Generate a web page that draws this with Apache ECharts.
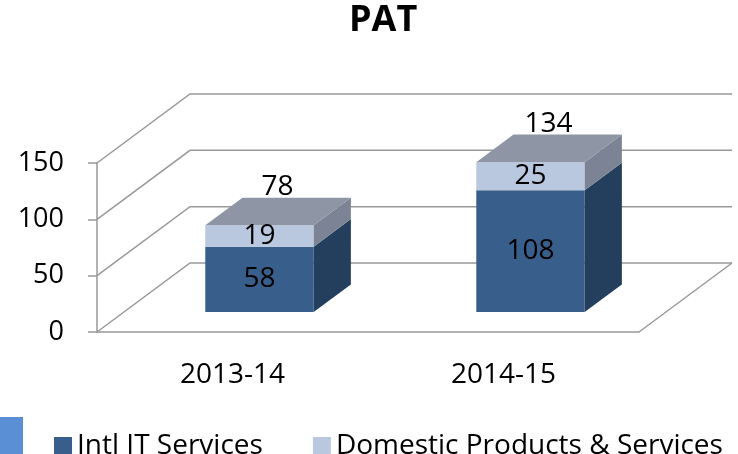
<!DOCTYPE html>
<html>
<head>
    <meta charset="utf-8">
    <title>PAT</title>
    <script src="https://cdn.jsdelivr.net/npm/echarts@6/dist/echarts.min.js"></script>
</head>
<body style="margin:0">
    <div id="main" style="width: 738px;height:454px;"></div>
    <script type="text/javascript">
        // data
        var categories = ['2013-14', '2014-15'];
        var intlIT = [58, 108];
        var domestic = [19, 25];
        var totals = [78, 134];
        var yTicks = [0, 50, 100, 150];

        // fake 3d: full depth of the floor, where the bars sit in it, how deep they are
        var DX = 93, DY = -69;
        var FRONT = 0.29, DEPTH = 0.4;
        var FONT = 'Open Sans';
        var LINE = '#999999';

        function wallItem(params, api) {
            var cs = params.coordSys;
            var v = api.value(0);
            var y = api.coord([0, v])[1];
            var x0 = cs.x, x1 = cs.x + cs.width;
            var pts = [[x0, y], [x0 + DX, y + DY], [x1 + DX, y + DY]];
            var style = { stroke: LINE, lineWidth: 1.5, fill: null };
            var kids = [{ type: 'polyline', shape: { points: pts }, style: style }];
            if (v === 0) {
                kids.push({ type: 'line', shape: { x1: x1, y1: y, x2: x1 + DX, y2: y + DY }, style: style });
            }
            return { type: 'group', children: kids };
        }

        function boxParts(api) {
            var i = api.value(0), lo = api.value(1), hi = api.value(2);
            var c0 = api.coord([i, lo]), c1 = api.coord([i, hi]);
            var bw = api.size([1, 0])[0] * 0.4;
            var xl = c0[0] - bw / 2 + DX * FRONT;
            return {
                xl: xl, xr: xl + bw,
                yb: c0[1] + DY * FRONT, yt: c1[1] + DY * FRONT,
                dx: DX * DEPTH, dy: DY * DEPTH
            };
        }

        function segItem(front, side, top) {
            return function (params, api) {
                var b = boxParts(api);
                var kids = [
                    { type: 'polygon', shape: { points: [[b.xl, b.yb], [b.xr, b.yb], [b.xr, b.yt], [b.xl, b.yt]] }, style: { fill: front } },
                    { type: 'polygon', shape: { points: [[b.xr, b.yb], [b.xr + b.dx, b.yb + b.dy], [b.xr + b.dx, b.yt + b.dy], [b.xr, b.yt]] }, style: { fill: side } }
                ];
                if (top) {
                    kids.push({ type: 'polygon', shape: { points: [[b.xl, b.yt], [b.xr, b.yt], [b.xr + b.dx, b.yt + b.dy], [b.xl + b.dx, b.yt + b.dy]] }, style: { fill: top } });
                }
                kids.push({
                    type: 'text',
                    style: {
                        text: String(api.value(2) - api.value(1)),
                        x: (b.xl + b.xr) / 2, y: (b.yb + b.yt) / 2,
                        align: 'center', verticalAlign: 'middle',
                        fill: '#000', font: '28px "' + FONT + '"'
                    }
                });
                return { type: 'group', children: kids };
            };
        }

        function totalItem(params, api) {
            var b = boxParts(api);
            return {
                type: 'text',
                style: {
                    text: String(api.value(3)),
                    x: (b.xl + b.xr) / 2 + 18, y: b.yt - 38,
                    align: 'center', verticalAlign: 'middle',
                    fill: '#000', font: '28px "' + FONT + '"'
                }
            };
        }

        var intlData = [], domData = [], totalData = [];
        for (var i = 0; i < categories.length; i++) {
            intlData.push([i, 0, intlIT[i]]);
            domData.push([i, intlIT[i], intlIT[i] + domestic[i]]);
            totalData.push([i, 0, intlIT[i] + domestic[i], totals[i]]);
        }

        var option = {
            animation: false,
            textStyle: { fontFamily: FONT },
            title: {
                text: 'PAT',
                left: 349, top: 3, padding: 0,
                textStyle: { fontSize: 36, fontWeight: 'bold', color: '#000', fontFamily: FONT }
            },
            legend: {
                data: ['Intl IT Services', 'Domestic Products & Services'],
                left: 49, top: 427,
                itemWidth: 18, itemHeight: 18, itemGap: 50,
                icon: 'rect',
                textStyle: { fontSize: 28, color: '#000', fontFamily: FONT, lineHeight: 28 }
            },
            graphic: [{
                type: 'rect', left: 0, top: 417,
                shape: { width: 23, height: 37 },
                style: { fill: '#5a8fd5' }
            }],
            grid: { left: 97, right: 99, top: 163, bottom: 122 },
            xAxis: {
                type: 'category',
                data: categories,
                axisLine: { lineStyle: { color: LINE, width: 1.5 } },
                axisTick: { length: 10, lineStyle: { color: LINE, width: 1.5 } },
                axisLabel: { fontSize: 28, color: '#000', margin: 29, fontFamily: FONT },
                splitLine: { show: false }
            },
            yAxis: {
                type: 'value',
                min: 0, max: 150, interval: 50,
                axisLine: { show: true, lineStyle: { color: LINE, width: 1.5 } },
                axisTick: { show: true, length: 9, lineStyle: { color: LINE, width: 1.5 } },
                axisLabel: { fontSize: 27, color: '#000', margin: 33, fontFamily: FONT },
                splitLine: { show: false }
            },
            series: [
                {
                    type: 'custom', name: 'walls', z: 1, silent: true,
                    renderItem: wallItem,
                    encode: { y: 0 },
                    data: yTicks.map(function (t) { return [t]; })
                },
                {
                    type: 'custom', name: 'Intl IT Services', z: 2,
                    itemStyle: { color: '#385e8c' },
                    renderItem: segItem('#385e8c', '#243e5e', null),
                    encode: { x: 0, y: [1, 2] },
                    data: intlData
                },
                {
                    type: 'custom', name: 'Domestic Products & Services', z: 3,
                    itemStyle: { color: '#b9c7df' },
                    renderItem: segItem('#b9c7df', '#7b8394', '#8e96a6'),
                    encode: { x: 0, y: [1, 2] },
                    data: domData
                },
                {
                    type: 'custom', name: 'total', z: 4,
                    renderItem: totalItem,
                    encode: { x: 0, y: [1, 2] },
                    data: totalData
                }
            ]
        };

        var myChart = echarts.init(document.getElementById('main'));
        myChart.setOption(option);
    </script>
</body>
</html>
